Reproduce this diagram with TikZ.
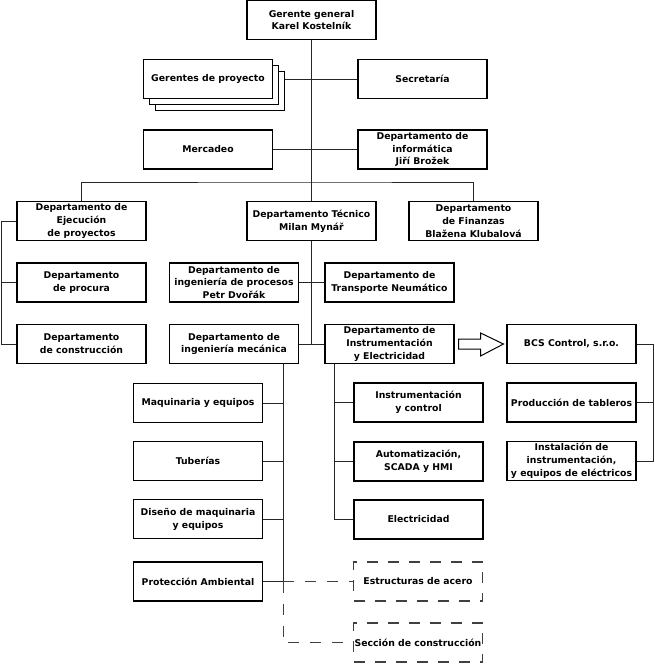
\documentclass[tikz,border=0pt]{standalone}
\usepackage{fontspec}
\setmainfont{DejaVu Sans}
\usetikzlibrary{calc}
\begin{document}
\begin{tikzpicture}[x=1pt,y=-1pt,
  box/.style={draw=black, line width=1.1pt, fill=white, minimum width=129pt, minimum height=39pt,
    inner sep=0pt, align=center, font=\fontsize{9.3}{12.8}\selectfont\bfseries},
  dbox/.style={box, draw=black!75, dash pattern=on 11pt off 10pt},
  link/.style={draw=black!85, line width=0.9pt},
  dlink/.style={link, draw=black!75, dash pattern=on 11pt off 11pt},
  arrowshape/.style={draw=black, line width=1pt, fill=white}]
\useasboundingbox (0,0) rectangle (654,664);

% top
\node[box] (gg) at (311.5,20) {Gerente general\\Karel Kostelník};
\node[box] (gp3) at (220,91) {};
\node[box] (gp2) at (214,85) {};
\node[box] (gp) at (208,79) {Gerentes de proyecto};
\node[box] (sec) at (422.5,79) {Secretaría};
\node[box] (mer) at (208,149.5) {Mercadeo};
\node[box] (inf) at (422.5,149.5) {Departamento de\\informática\\Jiří Brožek};

% second level
\node[box] (eje) at (81.5,221) {Departamento de\\Ejecución\\de proyectos};
\node[box] (tec) at (311.5,221) {Departamento Técnico\\Milan Mynář};
\node[box] (fin) at (473.5,221) {Departamento\\de Finanzas\\Blažena Klubalová};

\node[box] (proc) at (81.5,282.5) {Departamento\\de procura};
\node[box] (cons) at (81.5,344) {Departamento\\de construcción};

\node[box] (ingp) at (234,282.5) {Departamento de\\ingeniería de procesos\\Petr Dvořák};
\node[box] (trans) at (389.5,282.5) {Departamento de\\Transporte Neumático};
\node[box] (mec) at (234,344) {Departamento de\\ingeniería mecánica};
\node[box] (ie) at (389.5,344) {Departamento de\\Instrumentación\\y Electricidad};
\node[box] (bcs) at (571.5,344) {BCS Control, s.r.o.};

\node[box] (prod) at (571.5,402.5) {Producción de tableros};
\node[box] (inst) at (571.5,461) {Instalación de\\instrumentación,\\y equipos de eléctricos};

\node[box] (ic) at (418.5,402.5) {Instrumentación\\y control};
\node[box] (aut) at (418.5,461.5) {Automatización,\\SCADA y HMI};
\node[box] (ele) at (418.5,519.5) {Electricidad};

\node[box] (maq) at (198,403) {Maquinaria y equipos};
\node[box] (tub) at (198,461) {Tuberías};
\node[box] (dis) at (198,519) {Diseño de maquinaria\\y equipos};
\node[box] (pro) at (198,581.5) {Protección Ambiental};

\node[dbox] (est) at (418,581.5) {Estructuras de acero};
\node[dbox] (sc) at (418,642.5) {Sección de construcción};

% connectors
\draw[link] (gg.south) -- (tec.north);
\draw[link] (tec.south) -- (tec.south |- mec.east);
\draw[link] (gp3.east |- gp.east) -- (sec.west);
\draw[link] (mer.east) -- (inf.west);
\coordinate (bus) at (312,182);
\draw[link] (eje.north) |- (bus) -| (fin.north);
\draw[link] (eje.west) -- ++(-15,0) |- (cons.west);
\draw[link] (proc.west) -- ++(-15,0);
\draw[link] (ingp.east) -- (trans.west);
\draw[link] (mec.east) -- (ie.west);

\coordinate (mtop) at ($(mec.south east)+(-16,0)$);
\draw[link] (mtop) -- (mtop |- pro.east);
\draw[link] (maq.east) -- (maq.east -| mtop);
\draw[link] (tub.east) -- (tub.east -| mtop);
\draw[link] (dis.east) -- (dis.east -| mtop);
\draw[link] (pro.east) -- (pro.east -| mtop);

\coordinate (ietop) at ($(ie.south west)+(10,0)$);
\draw[link] (ietop) -- (ietop |- ele.west);
\draw[link] (ic.west) -- (ic.west -| ietop);
\draw[link] (aut.west) -- (aut.west -| ietop);
\draw[link] (ele.west) -- (ele.west -| ietop);

\draw[link] (bcs.east) -- ++(17,0) |- (inst.east);
\draw[link] (prod.east) -- ++(17,0);

\draw[dlink] (pro.east -| mtop) -- (est.west);
\draw[dlink] (pro.east -| mtop) |- (sc.west);

% hollow arrow
\coordinate (a0) at ($(ie.east)+(4,0)$);
\draw[arrowshape] ($(a0)+(0,-5)$) -- ($(a0)+(22,-5)$) -- ($(a0)+(22,-11)$)
  -- ($(bcs.west)+(-3,0)$) -- ($(a0)+(22,12)$) -- ($(a0)+(22,5)$) -- ($(a0)+(0,5)$) -- cycle;
\end{tikzpicture}
\end{document}
